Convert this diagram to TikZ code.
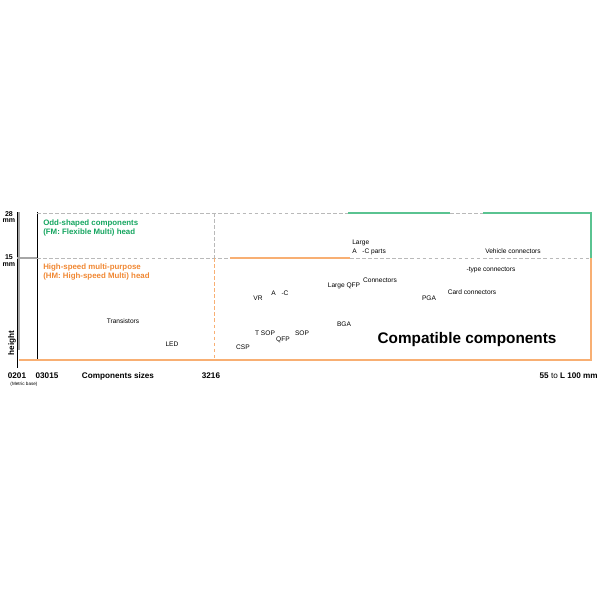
\documentclass[tikz,border=0pt]{standalone}
\usepackage{fontspec}
\setmainfont{Liberation Sans}
\definecolor{fmgreen}{RGB}{20,165,95}
\definecolor{fmline}{RGB}{90,195,145}
\definecolor{hmorange}{RGB}{240,135,50}
\definecolor{hmline}{RGB}{248,175,115}

\begin{document}
\begin{tikzpicture}[x=0.025cm, y=-0.025cm,
    lbl/.style={font=\fontsize{4.7}{5}\selectfont, inner sep=0pt},
    axlbl/.style={font=\fontsize{5.8}{6.5}\selectfont\bfseries, inner sep=0pt},
    unitlbl/.style={font=\fontsize{5}{6}\selectfont\bfseries, inner sep=0pt},
    headlbl/.style={font=\fontsize{5.6}{6.4}\selectfont\bfseries, inner sep=0pt, anchor=west, align=left},
    gridline/.style={gray!55, line width=0.5pt, dash pattern=on 2.5pt off 1.8pt}]
  \useasboundingbox (0,0) rectangle (600,600);

  % axes
  \draw[gray!70, line width=1.4pt] (19,212) -- (19,350);
  \draw[black, line width=0.6pt] (17,212) -- (17,368);
  \draw[black, line width=0.6pt] (37,212) -- (37,360);
  \draw[gray!70, line width=1.2pt] (17,258) -- (37,258);

  % level lines
  \draw[gridline] (37,213) -- (348,213);
  \draw[fmline, line width=0.8pt] (348,213) -- (450,213);
  \draw[gridline] (450,213) -- (483,213);
  \draw[fmline, line width=0.8pt] (483,213) -- (591,213) -- (591,258);
  \draw[gridline] (37,258) -- (230,258);
  \draw[hmline, line width=0.8pt] (230,258) -- (350,258);
  \draw[gridline] (350,258) -- (591,258);
  \draw[hmline, line width=0.8pt] (591,258) -- (591,360) -- (19,360);
  \draw[gridline] (214,213) -- (214,258);
  \draw[hmline, line width=0.6pt, dash pattern=on 2.5pt off 1.8pt] (214,258) -- (214,360);

  % axis labels
  \node[unitlbl] (h28) at (9,214) {28};
  \node[unitlbl] (mm28) at (9,221) {mm};
  \node[unitlbl] (h15) at (9,257) {15};
  \node[unitlbl] (mm15) at (9,265) {mm};
  \node[axlbl, rotate=90] (height) at (12,343) {height};
  \node[axlbl] (s0201) at (17,376) {0201};
  \node[font=\fontsize{3.3}{4}\selectfont, inner sep=0pt] (metric) at (24,384) {(Metric base)};
  \node[axlbl] (s03015) at (47,376) {03015};
  \node[axlbl] (sizes) at (118,376) {Components sizes};
  \node[axlbl] (s3216) at (211,376) {3216};
  \node[axlbl, anchor=east] (s55) at (598,376) {55 \textmd{to} L 100 mm};

  % head areas
  \node[headlbl, text=fmgreen] (fm) at (43,227.5) {Odd-shaped components\\(FM: Flexible Multi) head};
  \node[headlbl, text=hmorange] (hm) at (43,271.5) {High-speed multi-purpose\\(HM: High-speed Multi) head};

  % components
  \node[lbl] (tr) at (123,321) {Transistors};
  \node[lbl] (led) at (172,344) {LED};
  \node[lbl] (csp) at (243,347) {CSP};
  \node[lbl] (tsop) at (265,333) {T SOP};
  \node[lbl] (qfp) at (283,340) {QFP};
  \node[lbl] (sop) at (302,333) {SOP};
  \node[lbl] (vr) at (258,298) {VR};
  \node[lbl] (ac) at (280,293) {A\hspace{4pt}-C};
  \node[lbl] (lqfp) at (344,286) {Large QFP};
  \node[lbl] (conn) at (380,280) {Connectors};
  \node[lbl] (bga) at (344,324) {BGA};
  \node[lbl, anchor=west] (large) at (352,243) {Large};
  \node[lbl, anchor=west] (acparts) at (352,252) {A\hspace{4pt}-C parts};
  \node[lbl] (vehicle) at (513,251) {Vehicle connectors};
  \node[lbl] (type) at (491,270) {-type connectors};
  \node[lbl] (card) at (472,292) {Card connectors};
  \node[lbl] (pga) at (429,298) {PGA};
  \node[font=\fontsize{10.9}{12}\selectfont\bfseries, inner sep=0pt] (compat) at (467,340) {Compatible components};
\end{tikzpicture}
\end{document}
